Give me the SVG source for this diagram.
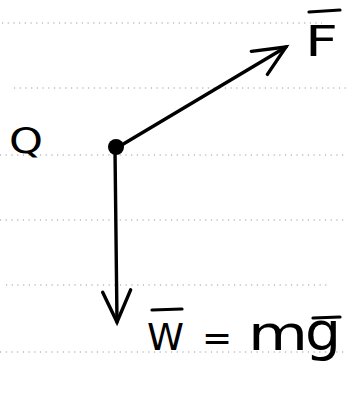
<svg xmlns="http://www.w3.org/2000/svg" width="346" height="395" viewBox="0 0 346 395">
  <style>
    .rule { stroke: #9a9a9a; stroke-width: 1; stroke-dasharray: 1.2 4.5; fill: none; }
    .vec { stroke: #000; stroke-width: 3.4; fill: none; stroke-linecap: round; }
    .bar { stroke: #000; stroke-width: 3.2; stroke-linecap: round; fill: none; }
    .lbl { font-family: "DejaVu Sans", "Liberation Sans", sans-serif; fill: #000; }
  </style>
  <defs>
    <marker id="head" markerUnits="userSpaceOnUse" markerWidth="50" markerHeight="50" viewBox="-40 -25 50 50" refX="0" refY="0" orient="auto" overflow="visible">
      <path d="M-32,-14 L0,0 L-30,14" fill="none" stroke="#000" stroke-width="3.4" stroke-linecap="round" stroke-linejoin="miter"/>
    </marker>
  </defs>
  <rect width="346" height="395" fill="#fff"/>
  <g id="rules">
    <line class="rule" x1="2" y1="23" x2="322" y2="23"/>
    <line class="rule" x1="14" y1="88" x2="346" y2="88"/>
    <line class="rule" x1="0" y1="155" x2="346" y2="155"/>
    <line class="rule" x1="0" y1="220" x2="346" y2="220"/>
    <line class="rule" x1="6" y1="285" x2="330" y2="285"/>
    <line class="rule" x1="0" y1="352" x2="346" y2="352"/>
  </g>
  <g id="connectors">
    <path class="vec" d="M120,146 L286,47" marker-end="url(#head)"/>
    <path class="vec" d="M115,150 L117,322" marker-end="url(#head)"/>
  </g>
  <g id="point-Q">
    <circle cx="116" cy="147" r="8" fill="#000"/>
  </g>
  <g id="label-Q">
    <text class="lbl" x="9" y="153" font-size="35" textLength="34" lengthAdjust="spacingAndGlyphs">Q</text>
  </g>
  <g id="label-F">
    <line class="bar" x1="309" y1="12" x2="340" y2="10"/>
    <text class="lbl" x="305" y="56" font-size="42" textLength="33" lengthAdjust="spacingAndGlyphs">F</text>
  </g>
  <g id="label-W">
    <line class="bar" x1="152" y1="310" x2="182" y2="309"/>
    <text class="lbl" x="147" y="350" font-size="38" textLength="37" lengthAdjust="spacingAndGlyphs">W</text>
    <text class="lbl" x="202" y="350" font-size="36">=</text>
    <text class="lbl" x="248" y="350" font-size="48" textLength="60" lengthAdjust="spacingAndGlyphs">m</text>
    <line class="bar" x1="313" y1="318" x2="340" y2="317"/>
    <text class="lbl" x="305" y="350" font-size="54" textLength="36" lengthAdjust="spacingAndGlyphs">g</text>
  </g>
</svg>
